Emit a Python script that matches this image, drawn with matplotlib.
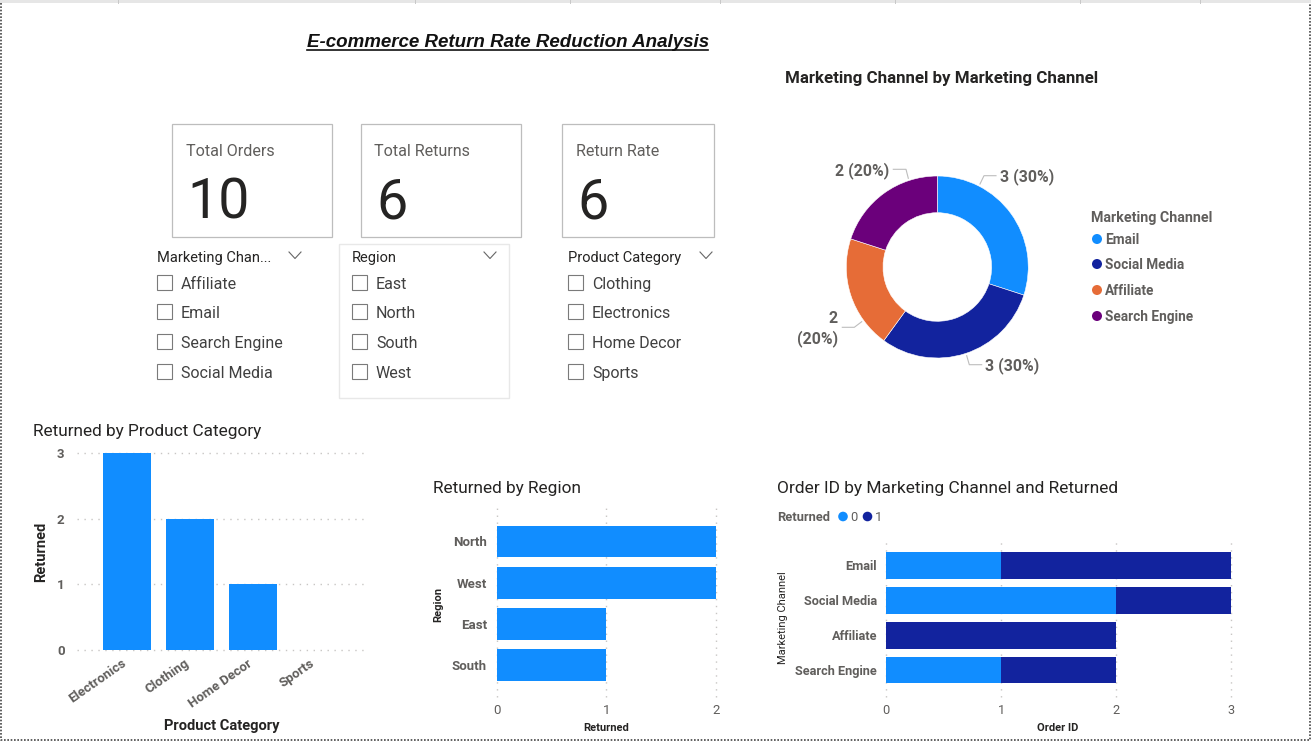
"""E-commerce return rate dashboard, laid out in pixels like the screenshot."""
import matplotlib
matplotlib.use("Agg")
import matplotlib.pyplot as plt
from matplotlib.patches import Rectangle, Circle
from matplotlib.transforms import ScaledTranslation

W, H = 1311, 742
BLUE, NAVY, ORANGE, PURPLE = "#118DFF", "#12239E", "#E66C37", "#6B007B"
FONT = "Roboto"

# data
kpi_labels = ["Total Orders", "Total Returns", "Return Rate"]
kpi_values = ["10", "6", "6"]
slicer_titles = ["Marketing Chan...", "Region", "Product Category"]
slicer_channel = ["Affiliate", "Email", "Search Engine", "Social Media"]
slicer_region = ["East", "North", "South", "West"]
slicer_product = ["Clothing", "Electronics", "Home Decor", "Sports"]

donut_channels = ["Email", "Social Media", "Affiliate", "Search Engine"]
donut_counts = [3, 3, 2, 2]
donut_labels = ["3 (30%)", "3 (30%)", "2\n(20%)", "2 (20%)"]

product_cats = ["Electronics", "Clothing", "Home Decor", "Sports"]
product_returned = [3, 2, 1, 0]

regions = ["North", "West", "East", "South"]
region_returned = [2, 2, 1, 1]

stack_channels = ["Email", "Social Media", "Affiliate", "Search Engine"]
stack_ret0 = [1, 2, 0, 1]
stack_ret1 = [2, 1, 2, 1]

plt.rcParams["font.family"] = [FONT, "DejaVu Sans"]
fig = plt.figure(figsize=(W / 100, H / 100), dpi=100, facecolor="white")

# full-figure overlay in pixel coordinates for the report furniture
bg = fig.add_axes([0, 0, 1, 1], zorder=0)
bg.set_xlim(0, W); bg.set_ylim(H, 0); bg.axis("off")

def box_axes(left, top, right, bottom):
    a = fig.add_axes([left / W, 1 - bottom / H, (right - left) / W, (bottom - top) / H], zorder=2)
    a.patch.set_alpha(0)
    for s in a.spines.values():
        s.set_visible(False)
    return a

def txt(x, y, s, size=10, color="#252423", **kw):
    kw.setdefault("va", "center"); kw.setdefault("ha", "left")
    return bg.text(x, y + 1, s, fontsize=size, color=color, **kw)

# page edge: toolbar shadow and dotted focus border
bg.add_patch(Rectangle((0, 0), W, 3, fc="#E6E6E6", ec="none"))
bg.plot([1, 1, W - 1.5, W - 1.5], [3, 740, 740, 3], color="#444444", lw=1.2, ls=(0, (1, 1)))
for x in [118, 415, 570, 720, 895, 1080, 1200]:
    bg.plot([x, x], [0, 3], color="#C8C8C8", lw=0.7)

# title
txt(508, 41.5, "E-commerce Return Rate Reduction Analysis", 13.5, "#111111", ha="center",
    family="Liberation Sans", weight="bold", style="italic")
bg.plot([307, 708], [49.5, 49.5], color="#111111", lw=1.2)

# KPI cards
cards = [(172, 332), (361, 521), (562, 714)]
for (l, r), lab, val in zip(cards, kpi_labels, kpi_values):
    bg.add_patch(Rectangle((l, 123.5), r - l, 113, fc="white", ec="#BDBDBD", lw=0.9))
    txt(l + 13.5, 150, lab, 11.6, "#605E5C")
    txt(l + 15, 202, val, 40, "#252423")

# slicers
bg.add_patch(Rectangle((338.5, 243.5), 170, 154, fc="white", ec="#E8E8E8", lw=1))
slicers = [(157, 295, slicer_channel), (352, 490, slicer_region), (568, 706, slicer_product)]
row_y = [283, 312, 342, 372]
for (x, chev, items), title in zip(slicers, slicer_titles):
    txt(x, 257, title, 10.5, "#252423")
    bg.plot([chev - 6, chev, chev + 6], [252, 258.5, 252], color="#666666", lw=0.8)
    for y, item in zip(row_y, items):
        bg.add_patch(Rectangle((x, y - 8), 15, 15, fc="white", ec="#7A7A7A", lw=0.8))
        txt(x + 24, y + 0.5, item, 11.5, "#404040")

# donut
ax = box_axes(937.3 - 100, 267 - 100, 937.3 + 100, 267 + 100)
ax.set_xlim(-100, 100); ax.set_ylim(-100, 100); ax.set_aspect("equal")
ax.pie(donut_counts, colors=[BLUE, NAVY, ORANGE, PURPLE], startangle=90, counterclock=False,
       radius=91, center=(0, 0), frame=True, wedgeprops=dict(width=91 - 54.3, linewidth=0.4, edgecolor="white"))
ax.set_xlim(-100, 100); ax.set_ylim(-100, 100); ax.axis("off")
txt(785, 77, "Marketing Channel by Marketing Channel", 12.2, "#252423", weight="bold")
leaders = [[(980, 184), (984, 175.7), (996, 175.7)], [(966.7, 355.7), (969.3, 364.7), (981.7, 364.7)],
           [(861.7, 321.7), (854.3, 327.3), (842.3, 327.3)], [(908.3, 178.3), (906, 169.3), (893.3, 169.3)]]
for pts in leaders:
    bg.plot(*zip(*pts), color="#BDBDBD", lw=0.8)
LAB = "#605E5C"
txt(1000, 176, donut_labels[0], 11.4, LAB, weight="bold")
txt(985, 365, donut_labels[1], 11.4, LAB, weight="bold")
txt(838, 328, donut_labels[2], 11.4, LAB, weight="bold", ha="right", multialignment="right", linespacing=1.3)
txt(889, 170, donut_labels[3], 11.4, LAB, weight="bold", ha="right")
txt(1091, 217, "Marketing Channel", 10.3, LAB, weight="bold")
for y, name, c in zip([239, 264, 290, 316], donut_channels, [BLUE, NAVY, ORANGE, PURPLE]):
    bg.add_patch(Circle((1097, y), 5, fc=c, ec="none"))
    txt(1105, y, name, 9.8, LAB, weight="bold")

GRID = dict(color="#C8C6C4", lw=1, ls=(0, (1, 4)))

# returned by product category
ax = box_axes(77, 453, 365, 650)
pos = list(range(len(product_cats)))
ax.bar(pos, product_returned, 0.765, color=BLUE, zorder=3)
ax.set_xlim(-0.796, 3.79); ax.set_ylim(0, 3)
ax.set_yticks([0, 1, 2, 3]); ax.grid(axis="y", **GRID); ax.set_axisbelow(True)
for ln in ax.get_ygridlines():
    ln.set_clip_on(False)
ax.set_xticks(pos); ax.set_xticklabels(product_cats, rotation=35, ha="right", rotation_mode="anchor", fontweight="bold")
ax.tick_params(length=0, labelsize=9.5, labelcolor=LAB)
ax.tick_params(axis="x", pad=5)
ax.tick_params(axis="y", pad=9)
shift = ScaledTranslation(-6 / 100, 0, fig.dpi_scale_trans)
for t in ax.get_xticklabels():
    t.set_transform(t.get_transform() + shift)
for t in ax.get_yticklabels():
    t.set_fontweight("bold")
txt(33, 430.5, "Returned by Product Category", 12.4, "#252423")
txt(41, 551, "Returned", 10.5, "#252423", weight="bold", rotation=90, ha="center")
txt(222, 725, "Product Category", 10.5, "#252423", weight="bold", ha="center")

# returned by region
ax = box_axes(496.7, 508, 716, 697)
pos = list(range(len(regions)))
ax.barh(pos, region_returned, 0.77, color=BLUE, zorder=3)
ax.set_xlim(0, 2); ax.set_ylim(3.765, -0.81)
ax.set_xticks([0, 1, 2]); ax.grid(axis="x", **GRID); ax.set_axisbelow(True)
for ln in ax.get_xgridlines():
    ln.set_clip_on(False)
ax.set_yticks(pos); ax.set_yticklabels(regions, fontweight="bold")
ax.tick_params(length=0, labelsize=9.5, labelcolor=LAB)
ax.tick_params(axis="x", pad=5)
ax.tick_params(axis="y", pad=7)
txt(433, 487, "Returned by Region", 12.4, "#252423")
txt(438, 603, "Region", 8, "#252423", weight="bold", rotation=90, ha="center")
txt(606, 727, "Returned", 8, "#252423", weight="bold", ha="center")

# order id by channel, stacked on returned
ax = box_axes(886, 540, 1231, 697)
pos = list(range(len(stack_channels)))
ax.barh(pos, stack_ret0, 0.763, color=BLUE, zorder=3)
ax.barh(pos, stack_ret1, 0.763, left=stack_ret0, color=NAVY, zorder=3)
ax.set_xlim(0, 3); ax.set_ylim(3.77, -0.73)
ax.set_xticks([0, 1, 2, 3]); ax.grid(axis="x", **GRID); ax.set_axisbelow(True)
for ln in ax.get_xgridlines():
    ln.set_clip_on(False)
ax.set_yticks(pos); ax.set_yticklabels(stack_channels, fontweight="bold")
ax.tick_params(length=0, labelsize=9.2, labelcolor=LAB)
ax.tick_params(axis="x", pad=5)
ax.tick_params(axis="y", pad=6.5)
txt(777, 487, "Order ID by Marketing Channel and Returned", 12.5, "#252423")
txt(777, 516.5, "Returned", 9.3, LAB, weight="bold")
for x, c, s in [(843, BLUE, "0"), (867.5, NAVY, "1")]:
    bg.add_patch(Circle((x, 516.5), 4.8, fc=c, ec="none"))
    txt(x + 7, 516.5, s, 9.3, LAB)
txt(783, 617, "Marketing Channel", 8, "#252423", rotation=90, ha="center")
txt(1058, 727, "Order ID", 8, "#252423", weight="bold", ha="center")

fig.savefig("out.png", dpi=100)
